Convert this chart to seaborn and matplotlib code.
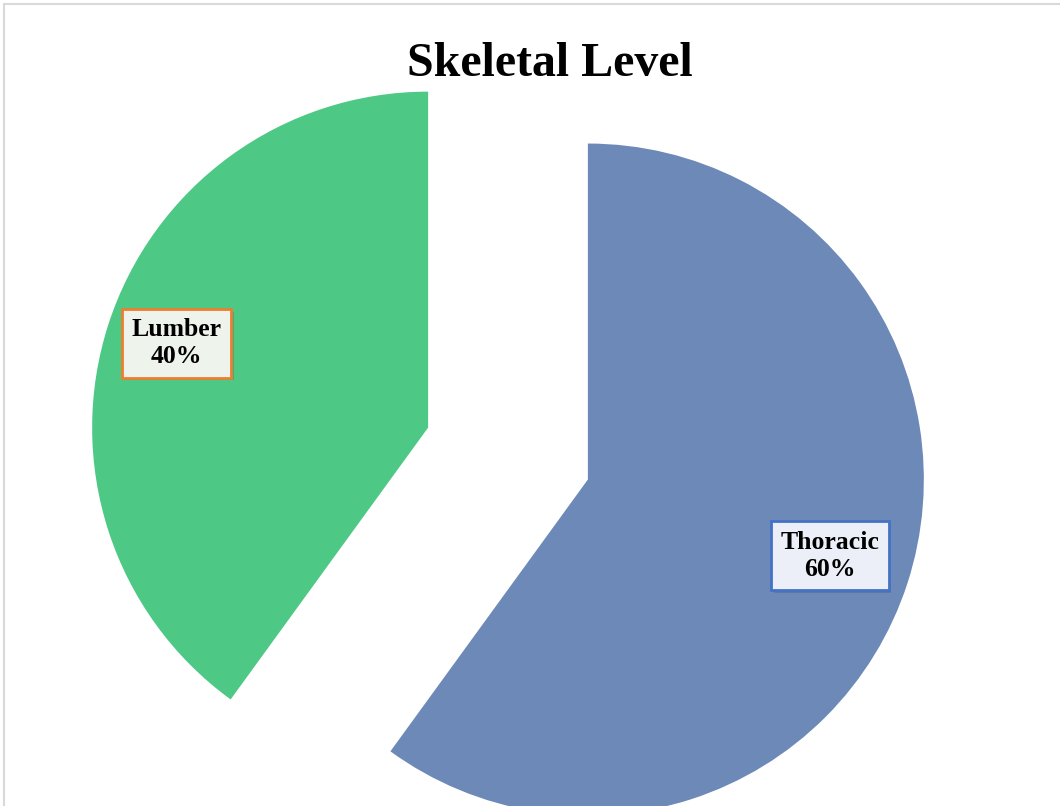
import matplotlib
matplotlib.use("Agg")
import matplotlib.pyplot as plt
import matplotlib.patheffects as pe
import seaborn as sns
from matplotlib.lines import Line2D

categories = ["Thoracic", "Lumber"]
shares = [60, 40]
slice_colors = ["#6d89b8", "#4dc885"]
box_faces = ["#eceff8", "#eef3ec"]
box_edges = ["#4472c4", "#ed7d31"]
title = "Skeletal Level"

sns.set_theme(style="white")
plt.rcParams["font.family"] = ["Liberation Serif", "DejaVu Serif"]

fig = plt.figure(figsize=(10.6, 8.06), dpi=100)
ax = fig.add_axes([0, 0, 1, 1])

palette = sns.color_palette(slice_colors)
labels = [f"{c}\n{v}%" for c, v in zip(categories, shares)]
wedges, texts = ax.pie(
    shares,
    labels=labels,
    colors=palette,
    startangle=90,
    counterclock=False,
    explode=[0.25, 0.25],
    labeldistance=0.772,
    radius=1.0,
    wedgeprops=dict(linewidth=0),
    textprops=dict(fontsize=18.5, fontweight="bold", color="black",
                   ha="center", va="center", linespacing=1.22),
)
for t, fc, ec in zip(texts, box_faces, box_edges):
    t.set_horizontalalignment("center")
    t.set_verticalalignment("center")
    x, y = t.get_position()
    t.set_position((x - 0.014, y + 0.012))
    t.set_bbox(dict(boxstyle="square,pad=0.36", facecolor=fc, edgecolor=ec,
                    linewidth=2))
    t.get_bbox_patch().set_path_effects(
        [pe.SimplePatchShadow(offset=(2, -2), shadow_rgbFace="#000000", alpha=0.12),
         pe.Normal()])

ax.set_aspect("equal")
ax.set_xlim(-1.512, 1.643)
ax.set_ylim(-1.049, 1.350)
ax.axis("off")

fig.text(0.519, 0.921, title, ha="center", va="center", fontsize=34.5,
         fontweight="bold", color="black")

# thin grey frame along the top and left edges
fig.add_artist(Line2D([4 / 1060, 1.0], [1 - 4 / 806, 1 - 4 / 806],
                      transform=fig.transFigure, color="#d9d9d9", linewidth=1.5))
fig.add_artist(Line2D([4 / 1060, 4 / 1060], [0.0, 1 - 4 / 806],
                      transform=fig.transFigure, color="#d9d9d9", linewidth=1.5))

fig.savefig("out.png", dpi=100, facecolor="white")
